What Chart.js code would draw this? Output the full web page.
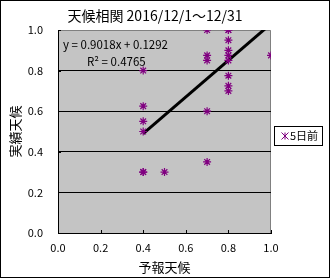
<!DOCTYPE html>
<html>
<head>
<meta charset="utf-8">
<script src="https://cdn.jsdelivr.net/npm/chart.js@4"></script>
<style>
  body { margin: 0; background: #fff; }
  #wrap { width: 330px; height: 278px; }
</style>
</head>
<body>
<div id="wrap"><canvas id="myChart"></canvas></div>
<script>
const forecast = [0.4, 0.4, 0.4, 0.4, 0.4, 0.4, 0.5, 0.7, 0.7, 0.7, 0.7, 0.7, 0.8, 0.8, 0.8, 0.8, 0.8, 0.8, 0.8, 0.8, 0.8, 1.0];
const actual   = [0.8, 0.625, 0.55, 0.5, 0.3, 0.3, 0.3, 1.0, 0.875, 0.85, 0.6, 0.35, 1.0, 1.0, 0.95, 0.9, 0.875, 0.85, 0.775, 0.725, 0.7, 0.875];
const tickValues = [0, 0.2, 0.4, 0.6, 0.8, 1.0];
const slope = 0.9018;
const intercept = 0.1292;
const rSquared = 0.4765;
const trendX = [0.4, 1.0];

const jp = '"Noto Sans CJK JP", "DejaVu Sans", sans-serif';

const points = forecast.map((x, i) => ({ x: x, y: actual[i] }));
const trend = trendX.map(x => ({ x: x, y: slope * x + intercept }));

// background, frame, plot fill, title, equation, legend
const decor = {
  id: 'decor',
  beforeDraw(chart) {
    const c = chart.ctx, a = chart.chartArea;
    c.save();
    c.fillStyle = '#fff';
    c.fillRect(0, 0, chart.width, chart.height);
    c.strokeStyle = '#000';
    c.lineWidth = 1;
    c.strokeRect(0.5, 0.5, chart.width - 1, chart.height - 1);
    c.fillStyle = '#c4c4c4';
    c.fillRect(a.left, a.top, a.right - a.left, a.bottom - a.top);
    c.strokeStyle = '#808080';
    c.beginPath();
    c.moveTo(a.left, a.top + 0.5);
    c.lineTo(a.right - 0.5, a.top + 0.5);
    c.lineTo(a.right - 0.5, a.bottom);
    c.stroke();
    c.restore();
  },
  afterDraw(chart) {
    const c = chart.ctx, a = chart.chartArea;
    const xs = chart.scales.x, ys = chart.scales.y;
    c.save();
    // inside tick marks
    c.strokeStyle = '#000';
    c.lineWidth = 1;
    c.beginPath();
    tickValues.forEach(v => {
      const px = Math.round(xs.getPixelForValue(v)) + 0.5;
      c.moveTo(px, a.bottom);
      c.lineTo(px, a.bottom - 3);
      const py = Math.round(ys.getPixelForValue(v)) + 0.5;
      c.moveTo(a.left, py);
      c.lineTo(a.left + 3, py);
    });
    c.stroke();
    // title
    c.fillStyle = '#000';
    c.textBaseline = 'middle';
    c.textAlign = 'center';
    c.font = '14px ' + jp;
    c.fillText('天候相関 2016/12/1～12/31', 155, 16);
    // equation
    c.textAlign = 'left';
    c.font = '11.5px ' + jp;
    c.fillText('y = ' + slope + 'x + ' + intercept, 63, 45);
    c.fillText('R² = ' + rSquared, 87, 62);
    // legend
    c.fillStyle = '#fff';
    c.fillRect(274, 126, 49, 20);
    c.strokeRect(274.5, 126.5, 48, 19);
    c.strokeStyle = '#800080';
    const mx = 285, my = 136, r = 3.5;
    c.beginPath();
    c.moveTo(mx, my - r); c.lineTo(mx, my + r);
    c.moveTo(mx - r, my - r); c.lineTo(mx + r, my + r);
    c.moveTo(mx + r, my - r); c.lineTo(mx - r, my + r);
    c.stroke();
    c.fillStyle = '#000';
    c.font = '11px ' + jp;
    c.fillText('5日前', 290, 136);
    c.restore();
  }
};

new Chart(document.getElementById('myChart'), {
  type: 'scatter',
  data: {
    datasets: [
      {
        label: '5日前',
        data: points,
        pointStyle: 'star',
        radius: 4,
        borderColor: '#800080',
        backgroundColor: '#800080',
        borderWidth: 1.2
      },
      {
        label: 'trend',
        type: 'line',
        data: trend,
        showLine: true,
        pointRadius: 0,
        borderColor: '#000',
        borderWidth: 3
      }
    ]
  },
  options: {
    responsive: true,
    maintainAspectRatio: false,
    animation: false,
    layout: { padding: { top: 30, right: 59, left: 1, bottom: 1 } },
    plugins: {
      legend: { display: false },
      tooltip: { enabled: false }
    },
    scales: {
      x: {
        min: 0, max: 1,
        afterBuildTicks: s => { s.ticks = tickValues.map(v => ({ value: v })); },
        afterFit: s => { s.height = 44; },
        ticks: { color: '#000', padding: 8, font: { family: jp, size: 11 }, callback: v => v.toFixed(1) },
        grid: { display: false, drawTicks: false },
        border: { color: '#000' },
        title: { display: true, text: '予報天候', color: '#000', padding: 2, font: { family: jp, size: 13 } }
      },
      y: {
        min: 0, max: 1,
        afterBuildTicks: s => { s.ticks = tickValues.map(v => ({ value: v })); },
        afterFit: s => { s.width = 57; },
        ticks: { color: '#000', padding: 15, font: { family: jp, size: 11 }, callback: v => v.toFixed(1) },
        grid: {
          drawTicks: false,
          color: ctx => (ctx.tick && ctx.tick.value > 0 && ctx.tick.value < 1) ? '#000' : 'rgba(0,0,0,0)'
        },
        border: { color: '#000' },
        title: { display: true, text: '実績天候', color: '#000', padding: 6, font: { family: jp, size: 13 } }
      }
    }
  },
  plugins: [decor]
});
</script>
</body>
</html>
